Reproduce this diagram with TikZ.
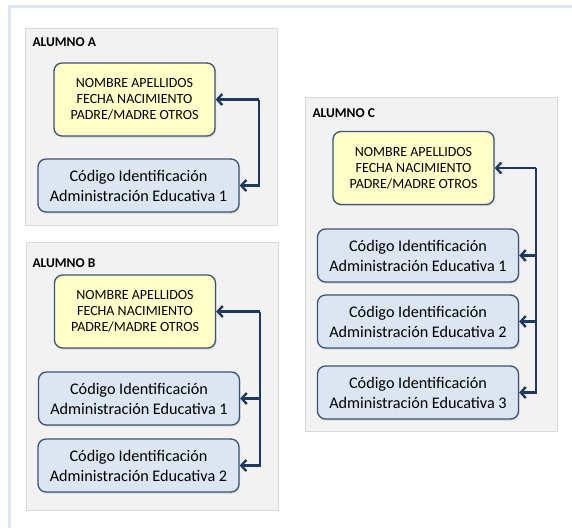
\documentclass[tikz,border=0pt]{standalone}
\usepackage{fontspec}
\setmainfont{Carlito}
\usetikzlibrary{arrows.meta, shadows}
\definecolor{panelgray}{HTML}{F2F2F2}
\definecolor{panelline}{HTML}{DADADA}
\definecolor{datayellow}{HTML}{FFFFC8}
\definecolor{codeblue}{HTML}{DCE6F2}
\definecolor{boxline}{HTML}{3B5375}
\definecolor{linknavy}{HTML}{1F3A60}
\definecolor{frameblue}{HTML}{DCE6F2}
\tikzset{
    panel/.style={fill=panelgray, draw=panelline, line width=0.6pt}, % grey background of each alumno
    title/.style={anchor=west, font=\fontsize{13.5}{15}\selectfont\bfseries}, % ALUMNO X
    datos/.style={draw=boxline, fill=datayellow, rounded corners=8pt, line width=1.3pt,
        minimum width=161pt, minimum height=73pt, align=center, inner sep=0pt,
        font=\fontsize{14}{16}\selectfont,
        drop shadow={opacity=0.25, shadow xshift=1pt, shadow yshift=-1.5pt}}, % yellow personal data box
    codigo/.style={draw=boxline, fill=codeblue, rounded corners=8pt, line width=1.3pt,
        minimum width=201pt, minimum height=53pt, align=center, inner sep=0pt,
        font=\fontsize{16.2}{20}\selectfont,
        drop shadow={opacity=0.25, shadow xshift=1pt, shadow yshift=-1.5pt}}, % blue code box
    link/.style={draw=linknavy, line width=2.4pt, -{Straight Barb[length=5pt,width=11pt]}}, % connectors
}
\newcommand{\datostext}{NOMBRE APELLIDOS\\FECHA NACIMIENTO\\PADRE/MADRE OTROS}
\newcommand{\codigotext}[1]{Código Identificación\\Administración Educativa #1}

\begin{document}
\begin{tikzpicture}[x=1pt, y=-1pt]
    \useasboundingbox (0,0) rectangle (572,528);
    % page frame
    \draw[frameblue, line width=3pt] (9.5,528) -- (9.5,6.5) -- (572,6.5);

    % ALUMNO A
    \draw[panel] (25,28) rectangle (277,225);
    \node[title] (tA) at (29,42) {ALUMNO A};
    \node[datos] (yA) at (134.5,99.5) {\datostext};
    \node[codigo] (bA1) at (138.5,185.5) {\codigotext{1}};
    \coordinate (lA) at (259,99.5);
    \draw[link] (lA) -- (yA.east);
    \draw[link] (lA) |- (bA1.east);

    % ALUMNO B
    \draw[panel] (26,242) rectangle (278,510);
    \node[title] (tB) at (29,263) {ALUMNO B};
    \node[datos] (yB) at (135,311.5) {\datostext};
    \node[codigo] (bB1) at (139,398.5) {\codigotext{1}};
    \node[codigo] (bB2) at (138.5,465.5) {\codigotext{2}};
    \coordinate (lB) at (260,311.5);
    \draw[link] (lB) -- (yB.east);
    \draw[link] (lB) |- (bB1.east);
    \draw[link] (lB) |- (bB2.east);

    % ALUMNO C
    \draw[panel] (305,97) rectangle (557,431);
    \node[title] (tC) at (309,113) {ALUMNO C};
    \node[datos] (yC) at (413.5,168) {\datostext};
    \node[codigo] (bC1) at (418,255.5) {\codigotext{1}};
    \node[codigo] (bC2) at (418,321.5) {\codigotext{2}};
    \node[codigo] (bC3) at (418,392.5) {\codigotext{3}};
    \coordinate (lC) at (536,168);
    \draw[link] (lC) -- (yC.east);
    \draw[link] (lC) |- (bC1.east);
    \draw[link] (lC) |- (bC2.east);
    \draw[link] (lC) |- (bC3.east);
\end{tikzpicture}
\end{document}
